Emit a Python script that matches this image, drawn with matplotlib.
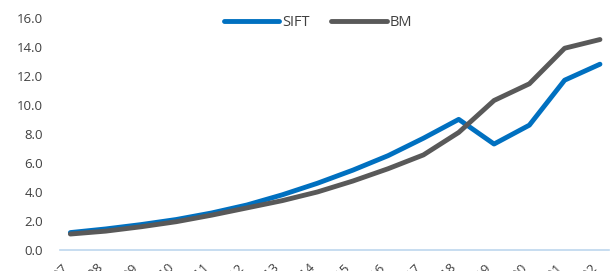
import matplotlib.pyplot as plt
import numpy as np

years = [str(y) for y in range(2007, 2023)]
sift = [1.2, 1.45, 1.75, 2.1, 2.55, 3.1, 3.8, 4.6, 5.5, 6.5, 7.7, 9.0, 7.3, 8.6, 11.7, 12.8]
bm = [1.1, 1.3, 1.6, 1.95, 2.4, 2.9, 3.4, 4.0, 4.75, 5.6, 6.55, 8.1, 10.3, 11.45, 13.9, 14.5]

plt.rcParams['font.family'] = ['Open Sans', 'DejaVu Sans']

fig = plt.figure(figsize=(6.1, 2.71), dpi=100)
ax = fig.add_axes([0.098, 0.0775, 0.9, 0.857])
x = np.arange(len(years))
ax.plot(x, sift, color='#0070C0', lw=3.5, solid_capstyle='round', label='SIFT')
ax.plot(x, bm, color='#595959', lw=3.5, solid_capstyle='round', label='BM')

ax.set_ylim(0, 16)
ax.set_yticks(np.arange(0, 17, 2))
ax.set_yticklabels(['%.1f' % v for v in np.arange(0, 17, 2)])
ax.set_xlim(-0.3, 15.25)
ax.set_xticks(x)
ax.set_xticklabels(years, rotation=45, ha='right')
ax.tick_params(length=0, labelsize=9.5, colors='#404040', pad=8)
ax.tick_params(axis='y', pad=12)
for s in ['top', 'right', 'left']:
    ax.spines[s].set_visible(False)
ax.spines['bottom'].set_color('#BDD7EE')
ax.spines['bottom'].set_linewidth(1.2)

ax.legend(loc='upper center', bbox_to_anchor=(0.47, 1.07), ncol=2, frameon=False,
          fontsize=10.5, handlelength=3.8, handletextpad=0.2, columnspacing=1.5,
          labelcolor='#404040')

fig.savefig('out.png', dpi=100)
